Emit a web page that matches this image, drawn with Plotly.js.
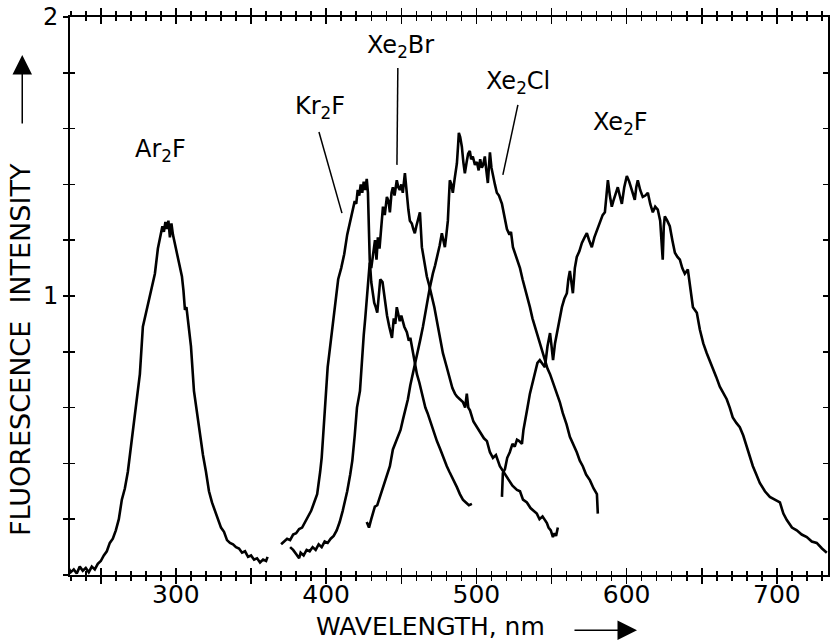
<!DOCTYPE html>
<html>
<head>
<meta charset="utf-8">
<script src="https://cdn.plot.ly/plotly-3.0.1.min.js"></script>
<style>
  html, body { margin: 0; padding: 0; background: #fff; }
  #chart { width: 830px; height: 643px; }
</style>
</head>
<body>
<div id="chart"></div>
<script>
// ---- Data (wavelength in nm, fluorescence intensity in arbitrary units) ----
const ar2fX = [228,230,232,234,236,238,240,242,244,246,248,250,252,254,256,258,260,262,264,266,268,270,272,274,276,278,280,282,284,286,288,290,291,292,293,294,295,296,297,298,299,300,302,304,305,306,307,308,310,312,314,316,318,320,322,324,326,328,330,332,334,336,338,340,342,344,346,348,350,352,354,356,358,360,361];
const ar2fY = [0.03,0.01,0.02,0.005,0.03,0.015,0.025,0.01,0.03,0.02,0.04,0.05,0.07,0.085,0.115,0.13,0.16,0.2,0.27,0.31,0.37,0.46,0.55,0.63,0.72,0.89,0.94,0.99,1.03,1.08,1.17,1.22,1.25,1.23,1.265,1.24,1.27,1.21,1.26,1.22,1.19,1.17,1.12,1.07,1.02,0.95,0.96,0.92,0.82,0.66,0.58,0.51,0.43,0.37,0.30,0.26,0.23,0.20,0.17,0.155,0.125,0.115,0.11,0.10,0.095,0.08,0.085,0.065,0.07,0.055,0.06,0.045,0.055,0.05,0.065];

const kr2fX = [370,372,374,376,378,380,382,384,386,388,390,392,394,396,397,398,399,400,401,402,404,406,408,410,412,414,416,418,419,420,421,422,423,424,425,426,427,427.8,428.5,429,430,431,432,433,434,435,436,437.5,439,440.5,442,443.8,445,446,447,448,449,450,452,453.7,455,456,457.7,459,460.4,462,464.4,466,467.5,469,471,473.7,476,478,480.3,482,484,487,489,491,493,495,497];
const kr2fY = [0.11,0.12,0.13,0.125,0.145,0.15,0.165,0.17,0.19,0.21,0.23,0.26,0.29,0.37,0.42,0.50,0.59,0.67,0.745,0.79,0.88,0.96,1.06,1.10,1.15,1.22,1.27,1.32,1.34,1.33,1.38,1.36,1.40,1.37,1.41,1.38,1.42,1.37,1.22,1.13,1.05,1.01,0.975,0.96,0.94,1.0,1.06,1.05,0.98,0.93,0.89,0.85,0.92,0.90,0.96,0.93,0.91,0.93,0.89,0.87,0.84,0.85,0.80,0.76,0.72,0.69,0.63,0.60,0.58,0.555,0.52,0.48,0.45,0.42,0.39,0.37,0.35,0.315,0.29,0.27,0.26,0.25,0.255];

const xe2brX = [376,378,380,382,383,385,387,389,391,393,395,397,399,401,403,405,407,409,411,413,414,416,417.4,419,420.5,422.5,424,425,426,427,428,429,430,431,432.5,433.5,434.4,435.5,436.5,437.8,439,440.4,441.5,442.4,443.5,444.4,445.5,447,448,449,450,451,452.4,453.7,454.7,455.7,457,458,459,460,461,462.4,463.7,465,467,468.5,470.4,472,474.4,476,477.7,480,482.3,484,485.7,487,489,491,492.5,493.6,494.6,495.7,498,500.3,503,505,507,509,511,513,515.6,518,520.3,522,524,527,529,531,533.6,536,538,540.2,542,544,546.9,548,549.5,550.9,552,553,554.2];
const xe2brY = [0.10,0.09,0.075,0.06,0.08,0.07,0.09,0.085,0.10,0.09,0.11,0.10,0.12,0.115,0.13,0.14,0.16,0.19,0.23,0.27,0.30,0.36,0.41,0.50,0.60,0.66,0.80,0.86,0.92,1.0,1.05,1.12,1.10,1.15,1.20,1.13,1.21,1.17,1.25,1.32,1.29,1.355,1.34,1.30,1.37,1.39,1.36,1.415,1.39,1.38,1.40,1.37,1.44,1.355,1.31,1.27,1.26,1.24,1.225,1.25,1.27,1.30,1.175,1.13,1.07,1.04,1.0,0.96,0.89,0.84,0.795,0.75,0.70,0.67,0.65,0.64,0.63,0.62,0.60,0.65,0.60,0.59,0.55,0.53,0.51,0.49,0.48,0.44,0.42,0.43,0.39,0.37,0.35,0.34,0.32,0.305,0.30,0.27,0.26,0.24,0.23,0.22,0.20,0.21,0.186,0.17,0.16,0.136,0.15,0.14,0.17];

const xe2clX = [427,428.5,430,432.4,434,435.8,437.5,439,440.5,442.4,444.4,446,447.7,449.5,451,452.5,454.4,456,457.7,459.5,461,462.5,464.4,465.5,467,468,469,470,471,472.5,474.4,475.5,477,478,479,480,481,481.7,482.3,483.3,484.3,485.5,487,487.8,488.3,489.2,490.3,491.3,492.3,493.5,494.5,495.6,496.5,497.6,499,500.3,501.5,502.5,503.6,504.5,505.6,506.6,507.6,508.3,509,510,511,512.3,513.6,515,517,518.7,520.3,522,523,524.3,526.5,529,530.7,532.3,534,535.6,537.3,539,540.6,542.2,544,545.6,547.3,549,551,553.5,555.5,557.5,560,562.2,564.5,566.8,568.8,570.8,573,575.5,578,580.2,580.8];
const xe2clY = [0.19,0.17,0.2,0.245,0.25,0.28,0.30,0.33,0.35,0.39,0.45,0.47,0.495,0.52,0.555,0.59,0.63,0.68,0.72,0.76,0.795,0.84,0.89,0.92,0.96,1.0,1.03,1.06,1.08,1.11,1.15,1.18,1.225,1.20,1.175,1.22,1.27,1.35,1.415,1.40,1.37,1.42,1.475,1.54,1.585,1.57,1.535,1.48,1.44,1.48,1.51,1.52,1.49,1.50,1.47,1.48,1.45,1.49,1.46,1.47,1.50,1.45,1.405,1.46,1.515,1.46,1.43,1.40,1.37,1.36,1.33,1.28,1.24,1.22,1.23,1.175,1.14,1.10,1.06,1.03,0.99,0.96,0.92,0.89,0.86,0.83,0.80,0.77,0.74,0.72,0.69,0.65,0.62,0.58,0.54,0.495,0.47,0.44,0.41,0.39,0.36,0.34,0.31,0.29,0.22];

const xe2fX = [517,517.6,519,520.5,522.2,524,525.5,527,528.5,530.3,531.3,532.3,534,535.6,537.3,539,540.6,542.2,543.8,545.6,547.3,549,550,551,552.3,553.5,555.3,556.9,558.5,560.2,561.2,562.2,563.2,564.2,565.5,566.8,568.5,570.2,572,573.5,575,576.8,578.5,580.2,582.2,584,585.5,586.5,587.5,588.8,590.1,591.1,592.1,593.1,594.1,595.4,596.8,598.4,600.1,601.7,603.4,604.4,605.4,606.4,607.4,609,610.7,612.4,614.1,615.7,617.4,619,620.7,622.3,623.3,624,624.7,625.4,627,628.7,630.4,632.1,633.8,635.4,637,638.7,640.7,642.4,644.1,645.4,646.7,648.7,651,653.3,655.3,657.3,659.6,662,664.3,666.6,668.6,670.6,673,675.3,677.6,680,682,684,686.3,688.6,692,695.3,698.6,702,704.3,706.6,710,713.2,716.5,719.9,723.2,726.5,730,733.2];
const xe2fY = [0.28,0.365,0.38,0.42,0.44,0.47,0.46,0.485,0.48,0.47,0.52,0.555,0.60,0.65,0.69,0.72,0.76,0.77,0.76,0.745,0.82,0.867,0.82,0.77,0.83,0.867,0.92,0.96,0.99,1.01,1.06,1.09,1.05,1.01,1.10,1.14,1.16,1.19,1.21,1.225,1.20,1.175,1.21,1.235,1.27,1.29,1.30,1.37,1.415,1.36,1.32,1.34,1.355,1.37,1.39,1.36,1.33,1.39,1.43,1.41,1.38,1.36,1.345,1.39,1.415,1.38,1.355,1.36,1.37,1.33,1.30,1.32,1.31,1.27,1.20,1.13,1.25,1.285,1.27,1.25,1.20,1.155,1.14,1.13,1.10,1.08,1.095,1.02,0.96,0.95,0.94,0.88,0.83,0.795,0.77,0.745,0.71,0.675,0.65,0.63,0.60,0.565,0.545,0.53,0.50,0.46,0.42,0.39,0.36,0.33,0.30,0.28,0.27,0.26,0.22,0.197,0.17,0.16,0.145,0.136,0.12,0.115,0.095,0.08];

// axis ticks
const xTickVals = [250,300,350,400,450,500,550,600,650,700];
const xTickText = ['','300','','400','','500','','600','','700'];
const yTickVals = [0,0.2,0.4,0.6,0.8,1.0,1.2,1.4,1.6,1.8,2.0];
const yTickText = ['','','','','','1','','','','','2'];

// species labels
const labelText = ['Ar<sub>2</sub>F','Kr<sub>2</sub>F','Xe<sub>2</sub>Br','Xe<sub>2</sub>Cl','Xe<sub>2</sub>F'];
const labelX = [290, 395.8, 449.7, 527.6, 596.1];
const labelY = [1.52, 1.675, 1.895, 1.765, 1.62];

const FONT = 'DejaVu Sans, Verdana, sans-serif';
const lineStyle = {color: '#000', width: 2.6};

const series = [[ar2fX, ar2fY], [kr2fX, kr2fY], [xe2brX, xe2brY], [xe2clX, xe2clY], [xe2fX, xe2fY]];
const traces = series.map(s => ({
  x: s[0], y: s[1], type: 'scatter', mode: 'lines',
  line: lineStyle, hoverinfo: 'skip', showlegend: false, cliponaxis: true
}));
// helper trace for the overlay axes (inward half of the crossing ticks)
traces.push({x: [], y: [], xaxis: 'x2', yaxis: 'y2', type: 'scatter', mode: 'lines', showlegend: false});

const XR = [229.5, 734];
const YR = [0, 2];

const xBase = {
  range: XR, showgrid: false, zeroline: false,
  tickmode: 'array', tickvals: xTickVals,
  ticklen: 7, tickwidth: 1.5, tickcolor: '#000',
  minor: {tickmode: 'linear', tick0: 0, dtick: 10, ticklen: 4, tickwidth: 1.5, tickcolor: '#000', showgrid: false},
  mirror: 'allticks'
};
const yBase = {
  range: YR, showgrid: false, zeroline: false,
  tickmode: 'array', tickvals: yTickVals,
  ticklen: 5, tickwidth: 1.5, tickcolor: '#000',
  mirror: 'allticks'
};

const layout = {
  width: 830, height: 643,
  margin: {l: 70, r: 2, t: 17, b: 68},
  paper_bgcolor: '#fff', plot_bgcolor: '#fff',
  showlegend: false,
  font: {family: FONT, color: '#000'},
  xaxis: Object.assign({}, xBase, {
    ticks: 'outside', minor: Object.assign({}, xBase.minor, {ticks: 'outside'}),
    ticktext: xTickText, showline: true, linewidth: 2, linecolor: '#000',
    ticklabelstandoff: -11,
    tickfont: {family: FONT, size: 25, color: '#000'}
  }),
  xaxis2: Object.assign({}, xBase, {
    overlaying: 'x', anchor: 'y', ticks: 'inside',
    minor: Object.assign({}, xBase.minor, {ticks: 'inside'}),
    showticklabels: false, showline: false
  }),
  yaxis: Object.assign({}, yBase, {
    ticks: 'outside', ticktext: yTickText, showline: true, linewidth: 2, linecolor: '#000',
    tickfont: {family: FONT, size: 24, color: '#000'}
  }),
  yaxis2: Object.assign({}, yBase, {
    overlaying: 'y', anchor: 'x', ticks: 'inside', showticklabels: false, showline: false
  }),
  annotations: [],
  shapes: [
    // leader lines from labels to curves
    {type: 'line', xref: 'x', yref: 'y', x0: 395.2, y0: 1.588, x1: 410.5, y1: 1.297, line: {color: '#000', width: 1.5}},
    {type: 'line', xref: 'x', yref: 'y', x0: 447.7, y0: 1.817, x1: 447.1, y1: 1.47, line: {color: '#000', width: 1.5}},
    {type: 'line', xref: 'x', yref: 'y', x0: 527.6, y0: 1.685, x1: 517.6, y1: 1.434, line: {color: '#000', width: 1.5}}
  ]
};

labelText.forEach((t, i) => {
  layout.annotations.push({
    text: t, x: labelX[i], y: labelY[i], xref: 'x', yref: 'y',
    showarrow: false, xanchor: 'center', yanchor: 'middle',
    font: {family: FONT, size: 24, color: '#000'}
  });
});

// axis titles as annotations (with arrows)
layout.annotations.push({
  text: 'WAVELENGTH, nm', xref: 'paper', yref: 'paper', x: 0.475, y: -0.093,
  showarrow: false, xanchor: 'center', yanchor: 'middle',
  font: {family: FONT, size: 25, color: '#000'}
});
layout.annotations.push({
  text: '', xref: 'paper', yref: 'paper', x: 0.748, y: -0.099,
  showarrow: true, ax: -64, ay: 0, arrowhead: 2, arrowsize: 2.6, arrowwidth: 1.5, arrowcolor: '#000'
});
layout.annotations.push({
  text: 'FLUORESCENCE  INTENSITY', xref: 'paper', yref: 'paper', x: -0.066, y: 0.405,
  textangle: -90, showarrow: false, xanchor: 'center', yanchor: 'middle',
  font: {family: FONT, size: 27, color: '#000'}
});
layout.annotations.push({
  text: '', xref: 'paper', yref: 'paper', x: -0.063, y: 0.932,
  showarrow: true, ax: 0, ay: 70, arrowhead: 2, arrowsize: 2.6, arrowwidth: 1.5, arrowcolor: '#000'
});

Plotly.newPlot('chart', traces, layout, {staticPlot: true, displayModeBar: false});
</script>
</body>
</html>
